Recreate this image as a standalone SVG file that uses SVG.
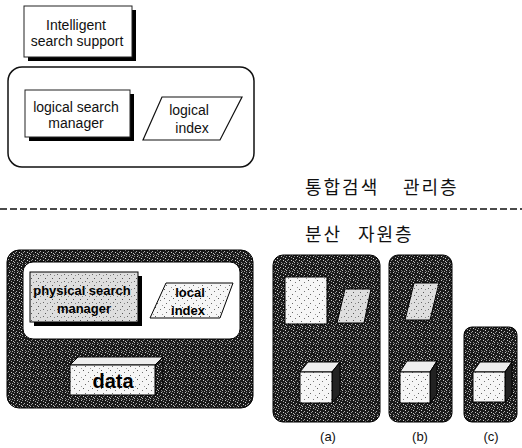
<svg xmlns="http://www.w3.org/2000/svg" width="522" height="448" viewBox="0 0 522 448">
<defs>
<pattern id="dark" width="8" height="8" patternUnits="userSpaceOnUse">
<rect width="8" height="8" fill="#1a1a1a"/>
<rect x="1" y="0" width="1" height="1" fill="#c8c8c8"/>
<rect x="6" y="0" width="1" height="1" fill="#8a8a8a"/>
<rect x="3" y="1" width="1" height="1" fill="#a0a0a0"/>
<rect x="5" y="2" width="1" height="1" fill="#d8d8d8"/>
<rect x="0" y="3" width="1" height="1" fill="#b0b0b0"/>
<rect x="3" y="4" width="1" height="1" fill="#d0d0d0"/>
<rect x="7" y="4" width="1" height="1" fill="#909090"/>
<rect x="5" y="5" width="1" height="1" fill="#bbbbbb"/>
<rect x="1" y="6" width="1" height="1" fill="#888888"/>
<rect x="6" y="6" width="1" height="1" fill="#c0c0c0"/>
<rect x="4" y="7" width="1" height="1" fill="#a8a8a8"/>
<rect x="2" y="7" width="1" height="1" fill="#777777"/>
</pattern>
<pattern id="light" width="9" height="9" patternUnits="userSpaceOnUse">
<rect width="9" height="9" fill="#f6f6f6"/>
<rect x="2" y="1" width="1" height="1" fill="#555"/>
<rect x="7" y="3" width="1" height="1" fill="#777"/>
<rect x="4" y="6" width="1" height="1" fill="#666"/>
<rect x="0" y="8" width="1" height="1" fill="#999"/>
</pattern>
<pattern id="lgray" width="7" height="7" patternUnits="userSpaceOnUse">
<rect width="7" height="7" fill="#dedede"/>
<rect x="1" y="1" width="1" height="1" fill="#666"/>
<rect x="5" y="2" width="1" height="1" fill="#888"/>
<rect x="3" y="5" width="1" height="1" fill="#555"/>
</pattern>
</defs>
<style>
.en{font-family:"Liberation Sans",Arial,sans-serif;font-size:14px;fill:#111;text-anchor:middle}
.bold{font-family:"Liberation Sans",Arial,sans-serif;font-weight:bold;font-size:13px;fill:#000;text-anchor:middle}
.ko{font-family:"Noto Sans CJK KR","Noto Sans",sans-serif;font-size:18px;fill:#111;letter-spacing:2px}
.lbl{font-family:"Liberation Sans",Arial,sans-serif;font-size:13px;fill:#111;text-anchor:middle}
.box{fill:#fff;stroke:#222;stroke-width:1}
.shadow{fill:#000}
.frame{fill:url(#dark);stroke:#000;stroke-width:1}
.face{stroke:#000;stroke-width:1}
</style>

<!-- upper layer -->
<g id="intelligent-search-support">
<rect class="shadow" x="28" y="10" width="108" height="51"/>
<rect class="box" x="24" y="6" width="108" height="51"/>
<text class="en" x="76" y="30">Intelligent</text>
<text class="en" x="77" y="46">search support</text>
</g>

<g id="logical-layer">
<rect x="8" y="67" width="246" height="100" rx="14" fill="#fff" stroke="#111" stroke-width="1.5"/>
</g>

<g id="logical-search-manager">
<rect class="shadow" x="29" y="94" width="105" height="47"/>
<rect class="box" x="25" y="90" width="105" height="47"/>
<text class="en" x="76" y="112">logical search</text>
<text class="en" x="76" y="128">manager</text>
</g>

<g id="logical-index">
<polygon points="162,97 242,97 220,140 143,140" fill="#fff" stroke="#111" stroke-width="1.2"/>
<text class="en" x="189" y="115">logical</text>
<text class="en" x="192" y="133">index</text>
</g>

<!-- layer labels and separator -->
<g id="layer-labels">
<text class="ko" y="194"><tspan x="305">통합검색</tspan><tspan x="403">관리층</tspan></text>
<text class="ko" y="241"><tspan x="305">분산</tspan><tspan x="358">자원층</tspan></text>
</g>
<g id="connectors">
<line x1="0" y1="209" x2="522" y2="209" stroke="#111" stroke-width="1.5" stroke-dasharray="7,3"/>
</g>

<!-- distributed resource layer -->
<g id="local-resource">
<rect class="frame" x="7" y="250" width="246" height="158" rx="12"/>
<rect x="23" y="262" width="217" height="77" rx="10" fill="#fff" stroke="#000" stroke-width="1"/>
</g>

<g id="physical-search-manager">
<rect class="shadow" x="34" y="276" width="108" height="50"/>
<rect x="30" y="272" width="108" height="50" fill="url(#lgray)" stroke="#000" stroke-width="1"/>
<text class="bold" x="82" y="295">physical search</text>
<text class="bold" x="84" y="313">manager</text>
</g>

<g id="local-index">
<polygon points="166,283 233,283 220,318 150,318" fill="url(#light)" stroke="#000" stroke-width="1"/>
<text class="bold" x="190" y="297">local</text>
<text class="bold" x="188" y="315">index</text>
</g>

<g id="data">
<polygon class="face" points="70,365 78,357 163,357 155,365" fill="#eeeeee"/>
<polygon class="face" points="155,365 163,357 163,387 155,395" fill="url(#dark)"/>
<rect class="face" x="70" y="365" width="85" height="30" fill="url(#light)"/>
<text x="113" y="388" font-family="Liberation Sans, Arial, sans-serif" font-weight="bold" font-size="20" fill="#000" text-anchor="middle">data</text>
</g>

<g id="resource-a">
<rect class="frame" x="273" y="255" width="107" height="167" rx="10"/>
<rect x="285" y="277" width="42" height="47" fill="url(#light)" stroke="#000"/>
<polygon points="345,289 371,289 364,323 337,323" fill="url(#lgray)" stroke="#000"/>
<polygon class="face" points="300,372 308,362 340,362 332,372" fill="#eeeeee"/>
<polygon class="face" points="332,372 340,362 340,394 332,403" fill="#222"/>
<rect class="face" x="300" y="372" width="32" height="31" fill="url(#light)"/>
<text class="lbl" x="328" y="441">(a)</text>
</g>

<g id="resource-b">
<rect class="frame" x="389" y="255" width="63" height="167" rx="9"/>
<polygon points="414,283 439,283 430,320 405,320" fill="url(#lgray)" stroke="#000"/>
<polygon class="face" points="400,372 407,361 437,361 430,372" fill="#eeeeee"/>
<polygon class="face" points="430,372 437,361 437,394 430,403" fill="#222"/>
<rect class="face" x="400" y="372" width="30" height="31" fill="url(#light)"/>
<text class="lbl" x="420" y="441">(b)</text>
</g>

<g id="resource-c">
<rect class="frame" x="464" y="327" width="53" height="95" rx="8"/>
<polygon class="face" points="473,372 480,362 512,362 505,372" fill="#eeeeee"/>
<polygon class="face" points="505,372 512,362 512,394 505,402" fill="#222"/>
<rect class="face" x="473" y="372" width="32" height="30" fill="url(#light)"/>
<text class="lbl" x="491" y="441">(c)</text>
</g>
</svg>
